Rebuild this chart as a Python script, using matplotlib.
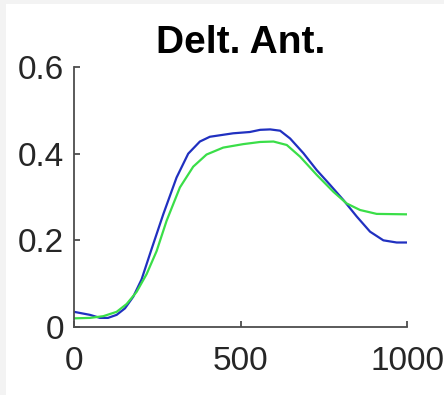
import matplotlib.pyplot as plt
import matplotlib.patches as patches

# valores
blue_x = [0, 48, 78, 102, 128, 153, 178, 203, 233, 268, 308, 343, 378, 408, 478, 528, 559, 589, 619,
          649, 689, 729, 769, 809, 849, 889, 929, 969, 1000]
blue_y = [0.035, 0.028, 0.021, 0.021, 0.028, 0.043, 0.070, 0.110, 0.180, 0.260, 0.345, 0.400, 0.428,
          0.439, 0.447, 0.450, 0.455, 0.456, 0.453, 0.435, 0.401, 0.362, 0.328, 0.293, 0.255, 0.220,
          0.200, 0.195, 0.195]

green_x = [0, 48, 88, 128, 158, 188, 218, 248, 278, 318, 358, 398, 448, 508, 559, 599, 639, 679,
           729, 779, 819, 859, 909, 1000]
green_y = [0.020, 0.021, 0.025, 0.035, 0.053, 0.081, 0.122, 0.175, 0.245, 0.322, 0.370, 0.398, 0.414,
           0.422, 0.427, 0.428, 0.420, 0.393, 0.351, 0.312, 0.285, 0.270, 0.261, 0.260]

x_ticks = [0, 500, 1000]
y_ticks = [0, 0.2, 0.4, 0.6]
y_tick_labels = ['0', '0.2', '0.4', '0.6']

plt.rcParams['font.family'] = ['Liberation Sans', 'DejaVu Sans']

figure = plt.figure(figsize=(4.44, 3.95), dpi=100)
figure.patch.set_facecolor('#f3f3f3')
# area branca com borda cinza clara
figure.patches.append(patches.Rectangle((6 / 444, 0), 1, 1 - 4 / 395, transform=figure.transFigure,
                                        facecolor='white', edgecolor='none', zorder=-1))

axis = figure.add_axes([74 / 444, 1 - 327 / 395, 333 / 444, 260 / 395])
axis.set_facecolor('none')

axis.plot(blue_x, blue_y, color='#2030c0', linewidth=1.6, solid_joinstyle='round')
axis.plot(green_x, green_y, color='#3ade48', linewidth=1.6, solid_joinstyle='round')

axis.set_xlim(0, 1000)
axis.set_ylim(0, 0.6)
axis.set_xticks(x_ticks)
axis.set_yticks(y_ticks)
axis.set_yticklabels(y_tick_labels)

for side in ['top', 'right']:
    axis.spines[side].set_visible(False)
for side in ['left', 'bottom']:
    axis.spines[side].set_color('#4d4d4d')
    axis.spines[side].set_linewidth(1.3)

axis.tick_params(direction='in', length=4, width=1.3, color='#4d4d4d', labelsize=24,
                 labelcolor='#262626')
axis.tick_params(axis='y', pad=7)
axis.tick_params(axis='x', pad=14)

axis.set_title('Delt. Ant.', fontsize=28, fontweight='bold', pad=10)

figure.savefig('out.png', dpi=100)
